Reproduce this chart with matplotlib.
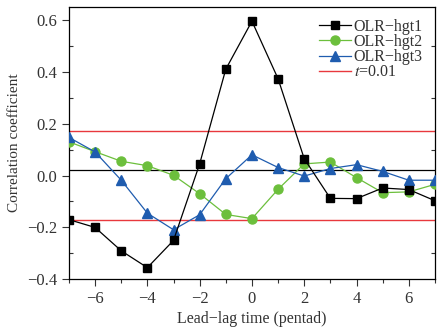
import matplotlib
matplotlib.use("Agg")
import matplotlib.pyplot as plt
from matplotlib.ticker import MultipleLocator

plt.rcParams['font.family'] = ['Liberation Serif', 'DejaVu Serif']
plt.rcParams['mathtext.fontset'] = 'stix'
plt.rcParams['axes.unicode_minus'] = True

lag = [-7, -6, -5, -4, -3, -2, -1, 0, 1, 2, 3, 4, 5, 6, 7]
hgt1 = [-0.17, -0.20, -0.29, -0.355, -0.25, 0.045, 0.41, 0.595, 0.373, 0.065,
        -0.088, -0.089, -0.048, -0.054, -0.097]
hgt2 = [0.13, 0.092, 0.055, 0.038, 0.001, -0.07, -0.15, -0.166, -0.053, 0.045,
        0.052, -0.008, -0.066, -0.063, -0.034]
hgt3 = [0.147, 0.091, -0.018, -0.145, -0.209, -0.151, -0.012, 0.080, 0.031, -0.002,
        0.027, 0.042, 0.016, -0.018, -0.018]
t_threshold = 0.17
ref_line = 0.02

fig = plt.figure(figsize=(4.42, 3.29), dpi=100)
ax = fig.add_axes([0.156, 0.151, 0.828, 0.828])

ax.axhline(t_threshold, color='#e8383d', lw=1.0, zorder=1)
ax.axhline(-t_threshold, color='#e8383d', lw=1.0, zorder=1)
ax.axhline(ref_line, color='black', lw=0.9, zorder=1)

ax.plot(lag, hgt1, color='black', lw=0.9, marker='s', ms=6, label='OLR\u2212hgt1', zorder=4)
ax.plot(lag, hgt2, color='#6cbf3c', lw=0.9, marker='o', ms=6.5, label='OLR\u2212hgt2', zorder=3)
ax.plot(lag, hgt3, color='#1f5caf', lw=0.9, marker='^', ms=7, label='OLR\u2212hgt3', zorder=3)
ax.plot([], [], color='#e8383d', lw=1.0, label='$t$=0.01')

ax.set_xlim(-7, 7)
ax.set_ylim(-0.4, 0.65)
ax.xaxis.set_major_locator(MultipleLocator(2))
ax.xaxis.set_minor_locator(MultipleLocator(1))
ax.yaxis.set_major_locator(MultipleLocator(0.2))
ax.yaxis.set_minor_locator(MultipleLocator(0.1))
ax.yaxis.set_major_formatter(matplotlib.ticker.FuncFormatter(
    lambda v, p: f"{v:.1f}".replace('-', '\u2212') if abs(v) > 1e-9 else "0.0"))
ax.tick_params(which='major', direction='out', length=5, width=0.8, labelsize=12,
               colors='#333333', labelcolor='#333333')
ax.tick_params(which='minor', direction='out', length=3, width=0.8, colors='#333333')
ax.tick_params(axis='y', which='minor', right=True, direction='in', length=3)
for s in ax.spines.values():
    s.set_linewidth(0.9)

ax.set_xlabel('Lead\u2212lag time (pentad)', fontsize=11.5, color='#333333', labelpad=3)
ax.set_ylabel('Correlation coefficient', fontsize=11, color='#333333', labelpad=4)

leg = ax.legend(loc='upper right', frameon=False, fontsize=11.5, handlelength=2.0,
                handletextpad=0.2, labelspacing=-0.05, borderaxespad=0.35)
for t in leg.get_texts():
    t.set_color('#333333')

fig.savefig('out.png', dpi=100)
